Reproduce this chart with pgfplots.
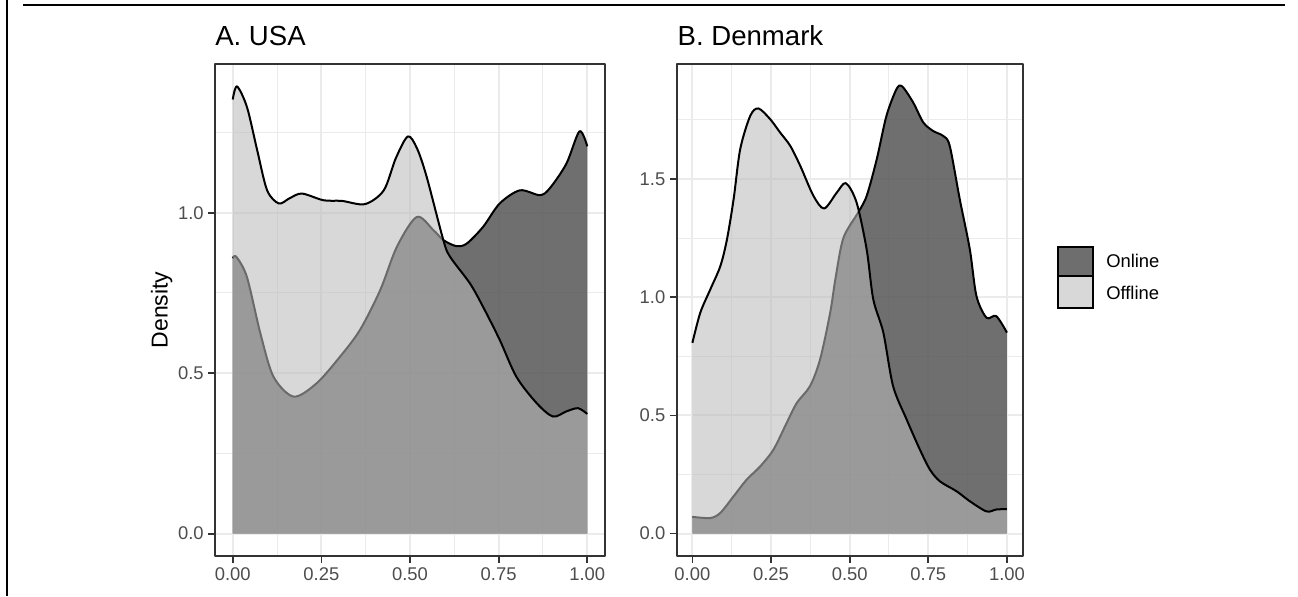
\documentclass[border=0pt]{standalone}
\usepackage{fontspec}
\setmainfont{Liberation Sans}
\usepackage{pgfplots}
\usepackage{pgfplotstable}
\pgfplotsset{compat=1.18}
\definecolor{gridc}{HTML}{EBEBEB}
\definecolor{grey20}{HTML}{333333}
\definecolor{grey30}{HTML}{4D4D4D}
\definecolor{onfill}{HTML}{565656}
\definecolor{offfill}{HTML}{BBBBBB}
\definecolor{onkey}{HTML}{6E6E6E}
\definecolor{offkey}{HTML}{D8D8D8}

\pgfplotstableread{
x y
0.000 1.353
0.012 1.394
0.040 1.330
0.069 1.195
0.097 1.070
0.130 1.029
0.160 1.045
0.195 1.060
0.256 1.039
0.308 1.037
0.373 1.027
0.426 1.070
0.460 1.170
0.494 1.238
0.520 1.200
0.547 1.112
0.594 0.915
0.613 0.863
0.669 0.780
0.706 0.707
0.753 0.604
0.800 0.489
0.857 0.407
0.903 0.365
0.941 0.381
0.974 0.391
1.000 0.373
}\usaoff

\pgfplotstableread{
x y
0.000 0.858
0.010 0.863
0.040 0.800
0.078 0.624
0.115 0.489
0.172 0.427
0.237 0.469
0.303 0.552
0.359 0.635
0.416 0.759
0.463 0.894
0.519 0.987
0.566 0.946
0.594 0.915
0.631 0.896
0.660 0.904
0.706 0.956
0.753 1.029
0.810 1.070
0.866 1.055
0.894 1.076
0.941 1.153
0.978 1.254
1.000 1.207
}\usaon

\pgfplotstableread{
x y
0.000 0.807
0.025 0.934
0.057 1.033
0.089 1.132
0.110 1.245
0.131 1.414
0.152 1.626
0.184 1.767
0.210 1.798
0.247 1.753
0.279 1.696
0.311 1.640
0.343 1.555
0.385 1.428
0.419 1.375
0.459 1.442
0.488 1.482
0.522 1.400
0.554 1.202
0.575 0.991
0.607 0.850
0.638 0.624
0.681 0.483
0.723 0.356
0.755 0.271
0.787 0.221
0.840 0.179
0.882 0.137
0.935 0.094
0.966 0.102
1.000 0.104
}\dkoff

\pgfplotstableread{
x y
0.000 0.071
0.057 0.066
0.089 0.088
0.131 0.158
0.173 0.229
0.216 0.285
0.258 0.356
0.300 0.469
0.332 0.553
0.374 0.624
0.406 0.737
0.438 0.934
0.455 1.080
0.480 1.250
0.527 1.358
0.554 1.428
0.586 1.583
0.617 1.767
0.649 1.880
0.667 1.891
0.702 1.823
0.734 1.739
0.765 1.703
0.797 1.682
0.818 1.640
0.850 1.414
0.882 1.202
0.903 1.005
0.935 0.913
0.966 0.920
1.000 0.850
}\dkon

\pgfplotsset{ggstyle/.style={
  scale only axis, height=369pt, anchor=south west,
  xmin=-0.05, xmax=1.05,
  xtick={0,0.25,0.5,0.75,1}, xticklabels={0.00,0.25,0.50,0.75,1.00},
  minor xtick={0.125,0.375,0.625,0.875},
  grid=both,
  major grid style={gridc, line width=1.5pt},
  minor grid style={gridc, line width=0.75pt},
  axis line style={grey20, line width=1.3pt},
  tick align=outside, tick pos=left,
  major tick length=5pt, minor tick length=0pt,
  every tick/.append style={grey20, line width=1.3pt},
  tick label style={font=\fontsize{13.8}{16}\selectfont, text=grey30},
  /pgf/number format/assume math mode=true,
  line join=round,
}}

\begin{document}
\begin{tikzpicture}
\useasboundingbox (0,0) rectangle (973.5pt,447pt);
% frame
\draw[black, line width=1.5pt] (5.5pt,0) -- (5.5pt,447pt);
\draw[black, line width=1.5pt] (17.25pt,443pt) -- (963.75pt,443pt);

\begin{axis}[ggstyle, at={(161.25pt,30pt)}, width=292.5pt,
  ymin=-0.0697, ymax=1.4637,
  ytick={0,0.5,1}, yticklabels={0.0,0.5,1.0},
  minor ytick={0.25,0.75,1.25}]
\addplot[draw=none, fill=onfill, fill opacity=0.85, smooth] table {\usaon} \closedcycle;
\addplot[black, line width=1.5pt, smooth] table {\usaon};
\addplot[draw=none, fill=offfill, fill opacity=0.57, smooth] table {\usaoff} \closedcycle;
\addplot[black, line width=1.5pt, smooth] table {\usaoff};
\end{axis}

\begin{axis}[ggstyle, at={(507.5pt,30pt)}, width=259.5pt,
  ymin=-0.0946, ymax=1.986,
  ytick={0,0.5,1,1.5}, yticklabels={0.0,0.5,1.0,1.5},
  minor ytick={0.25,0.75,1.25,1.75}]
\addplot[draw=none, fill=onfill, fill opacity=0.85, smooth] table {\dkon} \closedcycle;
\addplot[black, line width=1.5pt, smooth] table {\dkon};
\addplot[draw=none, fill=offfill, fill opacity=0.57, smooth] table {\dkoff} \closedcycle;
\addplot[black, line width=1.5pt, smooth] table {\dkoff};
\end{axis}

% titles
\node[anchor=base west, inner sep=0pt, font=\fontsize{20.7}{24}\selectfont] at (161.25pt,412.5pt) {A. USA};
\node[anchor=base west, inner sep=0pt, font=\fontsize{20.7}{24}\selectfont] at (508pt,412.5pt) {B. Denmark};
% y label
\node[rotate=90, inner sep=0pt, font=\fontsize{17.25}{20}\selectfont] at (121.3pt,214.5pt) {Density};
% legend
\draw[black, line width=1.5pt, fill=onkey] (793.5pt,240pt) rectangle (819.75pt,262pt);
\draw[black, line width=1.5pt, fill=offkey] (793.5pt,216pt) rectangle (819.75pt,240pt);
\node[anchor=west, inner sep=0pt, font=\fontsize{13.8}{16}\selectfont] at (829.5pt,251.5pt) {Online};
\node[anchor=west, inner sep=0pt, font=\fontsize{13.8}{16}\selectfont] at (829.5pt,227pt) {Offline};
\end{tikzpicture}
\end{document}
